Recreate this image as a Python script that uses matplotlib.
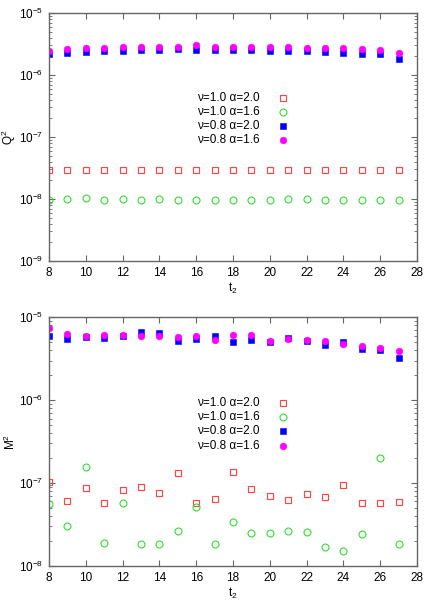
import numpy as np
import matplotlib
matplotlib.use('Agg')
from matplotlib import pyplot as plt
from matplotlib.ticker import LogLocator, FixedLocator, NullFormatter

plt.rcParams['font.family'] = ['Liberation Sans', 'DejaVu Sans']
plt.rcParams['mathtext.fontset'] = 'custom'
plt.rcParams['mathtext.rm'] = 'Liberation Sans'
plt.rcParams['mathtext.it'] = 'Liberation Sans'

t2 = np.arange(8, 28)

labels = ['ν=1.0 α=2.0', 'ν=1.0 α=1.6', 'ν=0.8 α=2.0', 'ν=0.8 α=1.6']

# Q^2 panel
q_v10_a20 = [2.9e-8] * 20
q_v10_a16 = [9.8e-9, 1.0e-8, 1.05e-8, 9.7e-9, 9.9e-9, 9.8e-9, 1.0e-8, 9.8e-9, 9.8e-9, 9.7e-9,
             9.8e-9, 9.7e-9, 9.7e-9, 1.0e-8, 1.0e-8, 9.8e-9, 9.8e-9, 9.7e-9, 9.7e-9, 9.7e-9]
q_v08_a20 = [2.16e-6, 2.28e-6, 2.36e-6, 2.4e-6, 2.45e-6, 2.55e-6, 2.55e-6, 2.6e-6, 2.55e-6, 2.55e-6,
             2.5e-6, 2.55e-6, 2.4e-6, 2.48e-6, 2.4e-6, 2.38e-6, 2.3e-6, 2.2e-6, 2.16e-6, 1.8e-6]
q_v08_a16 = [2.45e-6, 2.6e-6, 2.7e-6, 2.75e-6, 2.85e-6, 2.85e-6, 2.85e-6, 2.85e-6, 3.0e-6, 2.85e-6,
             2.85e-6, 2.85e-6, 2.8e-6, 2.8e-6, 2.75e-6, 2.75e-6, 2.7e-6, 2.6e-6, 2.5e-6, 2.3e-6]

# M^2 panel
m_v10_a20 = [1.04e-7, 6.05e-8, 8.7e-8, 5.73e-8, 8.15e-8, 8.9e-8, 7.6e-8, 1.32e-7, 5.78e-8, 6.4e-8,
             1.37e-7, 8.4e-8, 6.9e-8, 6.2e-8, 7.4e-8, 6.7e-8, 9.4e-8, 5.78e-8, 5.8e-8, 5.95e-8]
m_v10_a16 = [5.67e-8, 3.04e-8, 1.55e-7, 1.9e-8, 5.8e-8, 1.84e-8, 1.83e-8, 2.64e-8, 5.1e-8, 1.86e-8,
             3.37e-8, 2.5e-8, 2.48e-8, 2.62e-8, 2.58e-8, 1.7e-8, 1.53e-8, 2.4e-8, 2.0e-7, 1.83e-8]
m_v08_a20 = [6.0e-6, 5.42e-6, 5.8e-6, 5.67e-6, 5.95e-6, 6.65e-6, 6.4e-6, 5.2e-6, 5.4e-6, 6.0e-6,
             5.0e-6, 5.27e-6, 5.0e-6, 5.6e-6, 5.17e-6, 4.58e-6, 5.06e-6, 4.17e-6, 4.0e-6, 3.25e-6]
m_v08_a16 = [7.4e-6, 6.2e-6, 6.0e-6, 6.1e-6, 6.15e-6, 5.9e-6, 6.0e-6, 5.8e-6, 5.95e-6, 5.3e-6,
             6.1e-6, 6.05e-6, 5.17e-6, 5.5e-6, 5.27e-6, 5.17e-6, 4.76e-6, 4.55e-6, 4.3e-6, 3.95e-6]

styles = [
    dict(marker='s', mfc='none', mec='#ff4444', mew=0.85, ms=4.6),
    dict(marker='o', mfc='none', mec='#33dd33', mew=0.8, ms=5.0),
    dict(marker='s', mfc='#0000ff', mec='#0000ff', mew=0.4, ms=4.4),
    dict(marker='o', mfc='#ff00ff', mec='#ff00ff', mew=0.4, ms=4.8),
]
frame = '#666666'


def panel(ax, series, ylabel, ylim, leg_y):
    for s, st in zip(series, styles):
        ax.plot(t2, s, ls='none', **st)
    ax.set_yscale('log')
    ax.set_xlim(8, 28)
    ax.set_ylim(*ylim)
    ax.xaxis.set_major_locator(FixedLocator(np.arange(8, 29, 2)))
    ax.yaxis.set_major_locator(LogLocator(base=10, numticks=10))
    ax.yaxis.set_minor_locator(LogLocator(base=10, subs=np.arange(2, 10), numticks=10))
    ax.yaxis.set_minor_formatter(NullFormatter())
    ax.tick_params(which='both', direction='in', top=True, right=True, color=frame,
                   labelsize=8.5, labelcolor='black')
    ax.tick_params(which='major', length=4, width=0.8, pad=4)
    ax.tick_params(which='minor', length=2, width=0.6)
    for sp in ax.spines.values():
        sp.set_color(frame)
        sp.set_linewidth(1.0)
    ax.set_xlabel('t$_2$', fontsize=8.5, labelpad=2)
    ax.set_ylabel(ylabel, fontsize=8.5)
    ax.yaxis.set_label_coords(-0.085, 0.5)
    # legend drawn like gnuplot: right-justified text, marker to the right
    for i, (lab, st) in enumerate(zip(labels, styles)):
        y = leg_y - i * 0.057
        ax.text(0.573, y, lab, transform=ax.transAxes, ha='right', va='center', fontsize=8.5)
        ax.plot([0.636], [y], transform=ax.transAxes, ls='none', clip_on=False, **st)


fig = plt.figure(figsize=(4.36, 6.10), dpi=100)
ax1 = fig.add_axes([0.1124, 0.5721, 0.844, 0.4066])
ax2 = fig.add_axes([0.1124, 0.0721, 0.844, 0.408])

panel(ax1, [q_v10_a20, q_v10_a16, q_v08_a20, q_v08_a16], 'Q$^2$', (1e-9, 1e-5), 0.657)
panel(ax2, [m_v10_a20, m_v10_a16, m_v08_a20, m_v08_a16], 'M$^2$', (1e-8, 1e-5), 0.655)

fig.savefig('out.png', dpi=100)
